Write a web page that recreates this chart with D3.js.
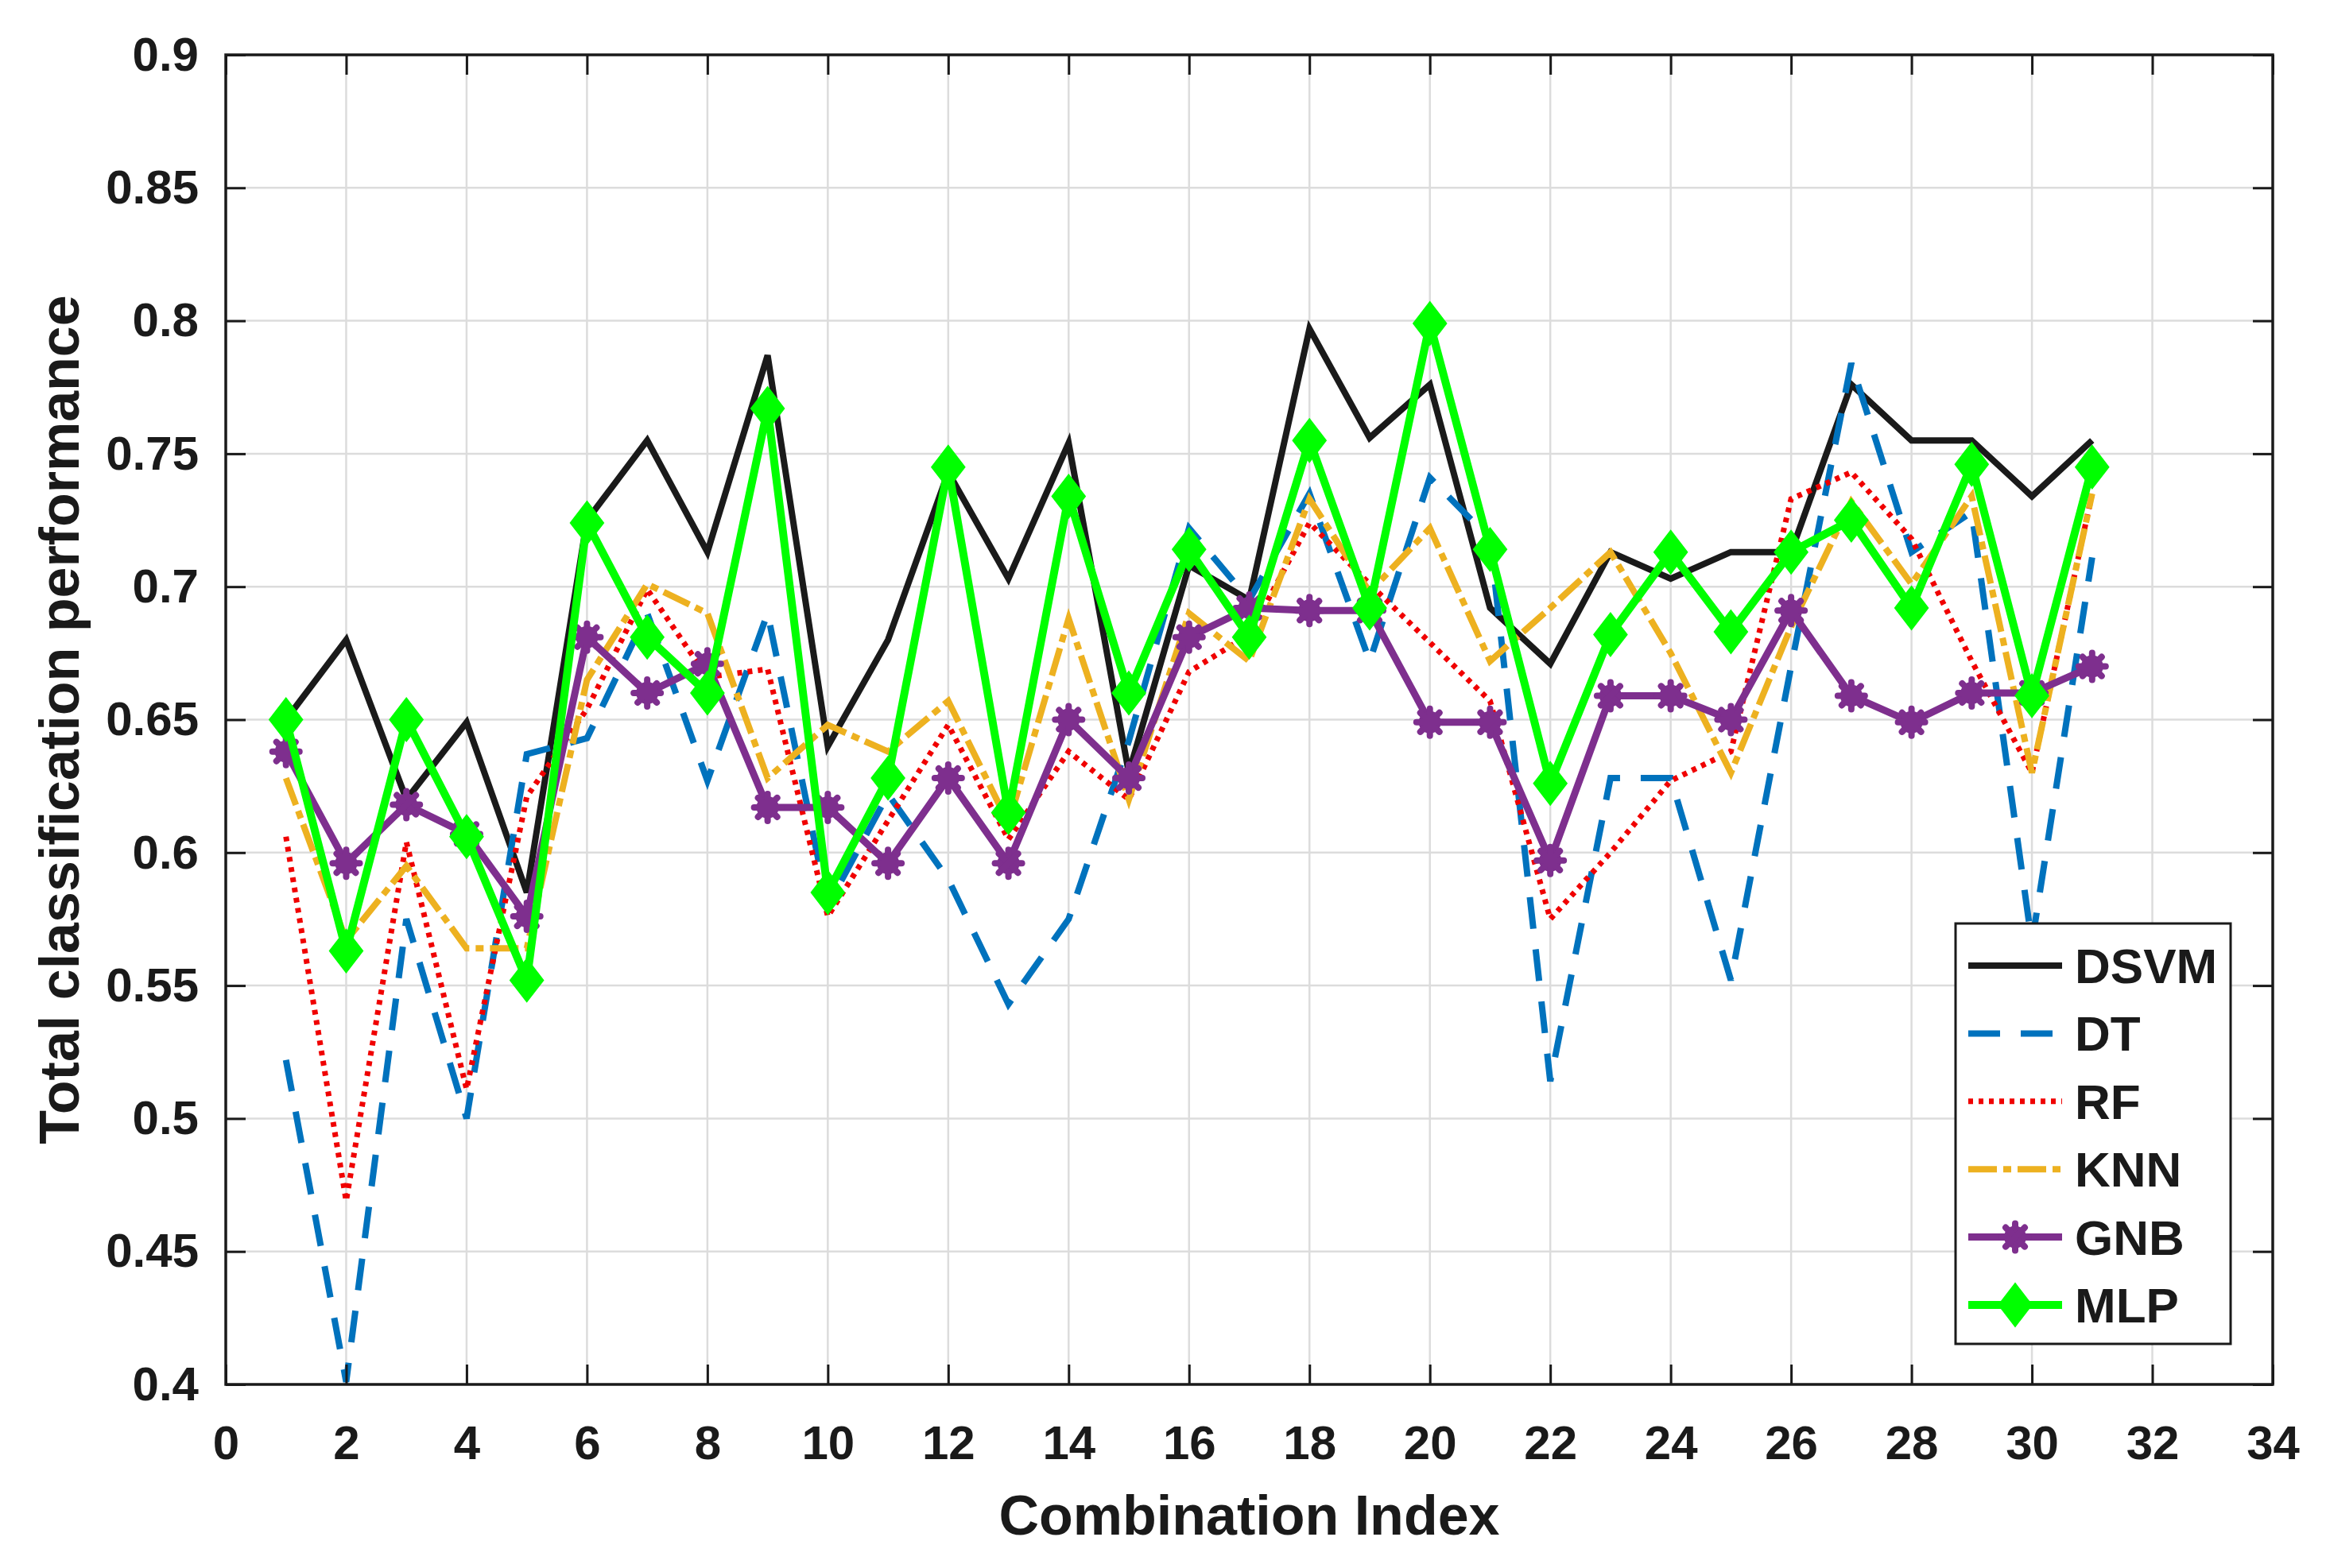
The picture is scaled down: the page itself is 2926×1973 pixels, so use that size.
<!DOCTYPE html>
<html>
<head>
<meta charset="utf-8">
<script src="https://cdn.jsdelivr.net/npm/d3@7"></script>
<style>
  html, body { margin: 0; padding: 0; background: #ffffff; }
  svg { display: block; }
  text { font-family: "Liberation Sans", Arial, Helvetica, sans-serif; font-weight: bold; fill: #1a1a1a; }
</style>
</head>
<body>
<script>
// ---------------- data ----------------
const combinationIndex = d3.range(1, 32);
const seriesNames = ["DSVM", "DT", "RF", "KNN", "GNB", "MLP"];
const DSVM = [0.650, 0.680, 0.620, 0.649, 0.585, 0.725, 0.755, 0.713, 0.787, 0.640, 0.680, 0.743, 0.703, 0.754, 0.630, 0.708, 0.695, 0.797, 0.756, 0.776, 0.692, 0.671, 0.713, 0.703, 0.713, 0.713, 0.776, 0.755, 0.755, 0.734, 0.755];
const DT   = [0.522, 0.401, 0.575, 0.500, 0.637, 0.643, 0.690, 0.627, 0.690, 0.580, 0.622, 0.590, 0.543, 0.575, 0.642, 0.722, 0.695, 0.735, 0.672, 0.741, 0.718, 0.514, 0.628, 0.628, 0.552, 0.670, 0.784, 0.713, 0.728, 0.566, 0.711];
const RF   = [0.606, 0.469, 0.604, 0.511, 0.621, 0.654, 0.699, 0.666, 0.669, 0.576, 0.612, 0.648, 0.605, 0.638, 0.620, 0.668, 0.682, 0.724, 0.701, 0.679, 0.657, 0.575, 0.600, 0.627, 0.638, 0.733, 0.743, 0.718, 0.672, 0.630, 0.735];
const KNN  = [0.628, 0.567, 0.595, 0.564, 0.564, 0.665, 0.701, 0.690, 0.628, 0.648, 0.638, 0.657, 0.611, 0.688, 0.620, 0.690, 0.672, 0.733, 0.698, 0.722, 0.672, 0.692, 0.713, 0.675, 0.630, 0.685, 0.732, 0.701, 0.734, 0.630, 0.735];
const GNB  = [0.638, 0.596, 0.618, 0.607, 0.576, 0.681, 0.660, 0.671, 0.617, 0.617, 0.596, 0.628, 0.596, 0.650, 0.628, 0.681, 0.692, 0.691, 0.691, 0.649, 0.649, 0.597, 0.659, 0.659, 0.650, 0.691, 0.659, 0.649, 0.660, 0.660, 0.670];
const MLP  = [0.650, 0.563, 0.650, 0.606, 0.552, 0.724, 0.681, 0.660, 0.767, 0.585, 0.628, 0.745, 0.615, 0.734, 0.660, 0.714, 0.681, 0.755, 0.692, 0.799, 0.714, 0.626, 0.682, 0.713, 0.683, 0.713, 0.725, 0.692, 0.746, 0.659, 0.745];
const xTicks = d3.range(0, 35, 2);
const yTicks = [0.4, 0.45, 0.5, 0.55, 0.6, 0.65, 0.7, 0.75, 0.8, 0.85, 0.9];
const yTickLabels = ["0.4", "0.45", "0.5", "0.55", "0.6", "0.65", "0.7", "0.75", "0.8", "0.85", "0.9"];
const xLabel = "Combination Index";
const yLabel = "Total classification performance";

// ---------------- styles ----------------
const styles = {
  DSVM: { color: "#1a1a1a", width: 8, dash: null, marker: null },
  DT:   { color: "#0072BD", width: 8, dash: "40,26", marker: null },
  RF:   { color: "#F00000", width: 7, dash: "6,7", marker: null },
  KNN:  { color: "#EDB120", width: 8, dash: "36,8,10,8", marker: null },
  GNB:  { color: "#7E2F8E", width: 9, dash: null, marker: "asterisk" },
  MLP:  { color: "#00FF00", width: 10, dash: null, marker: "diamond" }
};
const seriesData = { DSVM, DT, RF, KNN, GNB, MLP };

const W = 2926, H = 1973;
const L = 284, R = 2859, T = 69, B = 1742;

const svg = d3.select("body").append("svg").attr("width", W).attr("height", H);
svg.append("rect").attr("width", W).attr("height", H).attr("fill", "#fff");

const x = d3.scaleLinear().domain([0, 34]).range([L, R]);
const y = d3.scaleLinear().domain([0.4, 0.9]).range([B, T]);

// grid
const grid = svg.append("g");
grid.selectAll("line.gx").data(xTicks.slice(1, -1)).join("line")
  .attr("x1", d => x(d)).attr("x2", d => x(d)).attr("y1", T).attr("y2", B)
  .attr("stroke", "#dcdcdc").attr("stroke-width", 2.5);
grid.selectAll("line.gy").data(yTicks.slice(1, -1)).join("line")
  .attr("x1", L).attr("x2", R).attr("y1", d => y(d)).attr("y2", d => y(d))
  .attr("stroke", "#dcdcdc").attr("stroke-width", 2.5);

// markers
function drawMarker(g, type, color) {
  if (type === "diamond") {
    g.append("path").attr("d", "M0,-26 L20,0 L0,26 L-20,0 Z")
      .attr("fill", color).attr("stroke", color).attr("stroke-width", 3);
  } else if (type === "asterisk") {
    g.append("circle").attr("r", 14).attr("fill", color);
    const s = 17, d = 12;
    [[-s,0,s,0],[0,-s,0,s],[-d,-d,d,d],[-d,d,d,-d]].forEach(p => {
      g.append("line").attr("x1", p[0]).attr("y1", p[1]).attr("x2", p[2]).attr("y2", p[3])
        .attr("stroke", color).attr("stroke-width", 8).attr("stroke-linecap", "round");
    });
  }
}

// lines
const lineGen = d3.line().x((d, i) => x(combinationIndex[i])).y(d => y(d));
const plotG = svg.append("g");
seriesNames.forEach(name => {
  const st = styles[name];
  const vals = seriesData[name];
  const p = plotG.append("path").datum(vals)
    .attr("d", lineGen).attr("fill", "none")
    .attr("stroke", st.color).attr("stroke-width", st.width)
    .attr("stroke-linejoin", "miter").attr("stroke-miterlimit", 4);
  if (st.dash) p.attr("stroke-dasharray", st.dash);
  if (st.marker) {
    vals.forEach((v, i) => {
      const g = plotG.append("g").attr("transform", `translate(${x(combinationIndex[i])},${y(v)})`);
      drawMarker(g, st.marker, st.color);
    });
  }
});

// axes
const fontSize = 60;
const axB = svg.append("g").attr("transform", `translate(0,${B})`)
  .call(d3.axisBottom(x).tickValues(xTicks).tickSize(-25).tickPadding(51).tickFormat(d3.format("d")));
const axL = svg.append("g").attr("transform", `translate(${L},0)`)
  .call(d3.axisLeft(y).tickValues(yTicks).tickSize(-25).tickPadding(34).tickFormat((d, i) => yTickLabels[i]));
const axT = svg.append("g").attr("transform", `translate(0,${T})`)
  .call(d3.axisTop(x).tickValues(xTicks).tickSize(-25).tickFormat(""));
const axR = svg.append("g").attr("transform", `translate(${R},0)`)
  .call(d3.axisRight(y).tickValues(yTicks).tickSize(-25).tickFormat(""));
[axB, axL, axT, axR].forEach(a => {
  a.select(".domain").remove();
  a.selectAll(".tick line").attr("stroke", "#1a1a1a").attr("stroke-width", 3);
  a.selectAll(".tick text").attr("font-size", fontSize).attr("fill", "#1a1a1a")
    .attr("font-family", "'Liberation Sans', Arial, sans-serif").attr("font-weight", "bold");
});
svg.append("rect").attr("x", L).attr("y", T).attr("width", R - L).attr("height", B - T)
  .attr("fill", "none").attr("stroke", "#1a1a1a").attr("stroke-width", 3.5);

// axis labels
svg.append("text").attr("x", (L + R) / 2).attr("y", 1931).attr("text-anchor", "middle")
  .attr("font-size", 70).text(xLabel);
svg.append("text").attr("transform", `translate(99,${(T + B) / 2}) rotate(-90)`)
  .attr("text-anchor", "middle").attr("font-size", 70).text(yLabel);

// legend
const lg = svg.append("g");
lg.append("rect").attr("x", 2460).attr("y", 1162).attr("width", 346).attr("height", 529)
  .attr("fill", "#fff").attr("stroke", "#1a1a1a").attr("stroke-width", 3);
const legendY = d3.scaleLinear().domain([0, 5]).range([1215, 1642]);
seriesNames.forEach((name, i) => {
  const st = styles[name];
  const cy = legendY(i);
  const l = lg.append("line").attr("x1", 2476).attr("x2", 2594).attr("y1", cy).attr("y2", cy)
    .attr("stroke", st.color).attr("stroke-width", st.width);
  if (st.dash) l.attr("stroke-dasharray", st.dash);
  if (st.marker) {
    const g = lg.append("g").attr("transform", `translate(2535,${cy})`);
    drawMarker(g, st.marker, st.color);
  }
  lg.append("text").attr("x", 2610).attr("y", cy + 22).attr("font-size", 62).attr("fill", "#000").text(name);
});
</script>
</body>
</html>
